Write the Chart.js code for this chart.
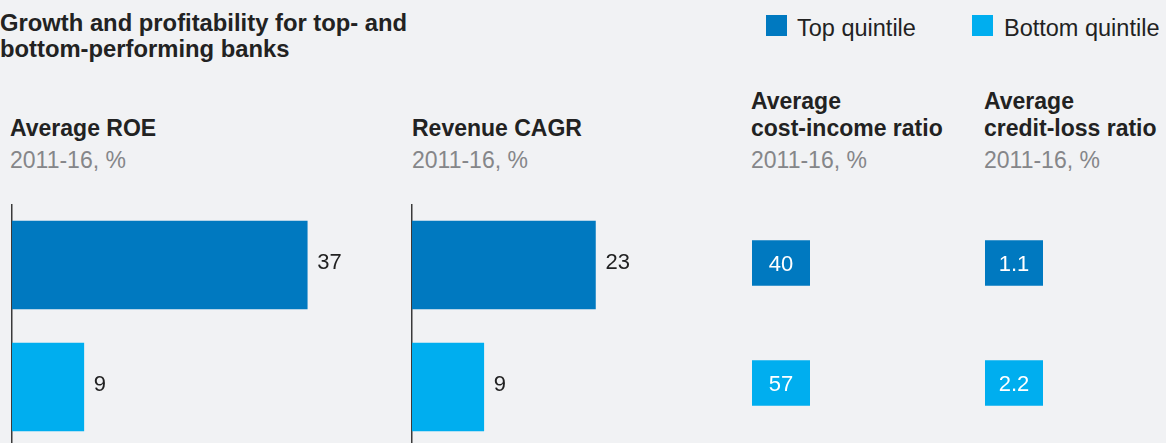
<!DOCTYPE html>
<html lang="en">

<head>
    <meta charset="UTF-8">
    <title>Growth and profitability for top- and bottom-performing banks</title>
    <script src="https://cdn.jsdelivr.net/npm/chart.js"></script>
    <style>
        body { margin: 0; background: #f1f2f4; font-family: "Liberation Sans", Arial, sans-serif; }
        #wrap { position: relative; width: 1166px; height: 443px; overflow: hidden; }
        .txt { position: absolute; white-space: nowrap; color: #222; }
        .title { font-size: 23.8px; font-weight: bold; line-height: 26px; }
        .head { font-size: 23px; font-weight: bold; line-height: 27px; }
        .sub { font-size: 23px; line-height: 27px; color: #858689; }
        .legend { font-size: 23.5px; line-height: 27px; }
        .swatch { position: absolute; width: 21px; height: 21px; }
        canvas { position: absolute; }
    </style>
</head>

<body>
    <div id="wrap">
        <div class="txt title" style="left:0; top:10px">Growth and profitability for top- and<br>bottom-performing banks</div>

        <div class="swatch" style="left:766px; top:15px; background:#0079c0"></div>
        <div class="txt legend" style="left:797px; top:14.5px">Top quintile</div>
        <div class="swatch" style="left:972px; top:15px; background:#00aeef"></div>
        <div class="txt legend" style="left:1004px; top:14.5px">Bottom quintile</div>

        <div class="txt head" style="left:10px; top:114.5px">Average ROE</div>
        <div class="txt sub" style="left:10px; top:146.5px">2011-16, %</div>
        <div class="txt head" style="left:412px; top:114.5px">Revenue CAGR</div>
        <div class="txt sub" style="left:412px; top:146.5px">2011-16, %</div>
        <div class="txt head" style="left:751px; top:87.5px">Average<br>cost-income ratio</div>
        <div class="txt sub" style="left:751px; top:146.5px">2011-16, %</div>
        <div class="txt head" style="left:984px; top:87.5px">Average<br>credit-loss ratio</div>
        <div class="txt sub" style="left:984px; top:146.5px">2011-16, %</div>

        <canvas id="roeChart" width="395" height="244" style="left:0; top:204px"></canvas>
        <canvas id="cagrChart" width="331" height="244" style="left:400px; top:204px"></canvas>
        <canvas id="costChart" width="58" height="240" style="left:752px; top:203px"></canvas>
        <canvas id="lossChart" width="58" height="240" style="left:985px; top:203px"></canvas>
    </div>

    <script>
        const groups = ["Top quintile", "Bottom quintile"];
        const colors = ["#0079c0", "#00aeef"];
        const roe = [37, 9];
        const revenueCagr = [23, 9];
        const costIncome = [40, 57];
        const creditLoss = [1.1, 2.2];

        Chart.defaults.font.family = "'Liberation Sans', Arial, sans-serif";

        // value text just past the end of each bar
        const endLabels = {
            id: "endLabels",
            afterDatasetsDraw(chart) {
                const ctx = chart.ctx;
                const ds = chart.data.datasets[0];
                ctx.save();
                ctx.font = "22px 'Liberation Sans', Arial, sans-serif";
                ctx.fillStyle = "#222";
                ctx.textBaseline = "alphabetic";
                chart.getDatasetMeta(0).data.forEach((bar, i) => {
                    ctx.fillText(String(ds.data[i]), bar.x + 10, bar.y + 4);
                });
                ctx.restore();
            }
        };

        // white value text centred in each box
        const boxLabels = {
            id: "boxLabels",
            afterDatasetsDraw(chart) {
                const ctx = chart.ctx;
                const vals = chart.options.plugins.boxLabels.values;
                ctx.save();
                ctx.font = "22px 'Liberation Sans', Arial, sans-serif";
                ctx.fillStyle = "#fff";
                ctx.textAlign = "center";
                ctx.textBaseline = "alphabetic";
                chart.getDatasetMeta(0).data.forEach((bar, i) => {
                    const cx = (bar.x + bar.base) / 2;
                    ctx.fillText(vals[i].toFixed(String(vals[i]).includes(".") ? 1 : 0), cx, bar.y + 8);
                });
                ctx.restore();
            }
        };

        function barChart(canvasId, values, max) {
            return new Chart(document.getElementById(canvasId), {
                type: "bar",
                data: {
                    labels: groups,
                    datasets: [{
                        data: values,
                        backgroundColor: colors,
                        borderWidth: 0,
                        barThickness: 88
                    }]
                },
                options: {
                    indexAxis: "y",
                    responsive: false,
                    animation: false,
                    devicePixelRatio: 1,
                    layout: { padding: { left: 4, right: 0, top: 0, bottom: 0 } },
                    plugins: { legend: { display: false }, tooltip: { enabled: false } },
                    scales: {
                        x: { display: false, min: 0, max: max },
                        y: {
                            display: true,
                            grid: { display: false },
                            ticks: { display: false },
                            border: { display: true, color: "#3a3a3a", width: 1.5 }
                        }
                    }
                },
                plugins: [endLabels]
            });
        }

        function boxChart(canvasId, values) {
            return new Chart(document.getElementById(canvasId), {
                type: "bar",
                data: {
                    labels: groups,
                    datasets: [{
                        // each value gets one full-width cell
                        data: values.map(() => [0, 1]),
                        backgroundColor: colors,
                        borderWidth: 0,
                        barThickness: 45
                    }]
                },
                options: {
                    indexAxis: "y",
                    responsive: false,
                    animation: false,
                    devicePixelRatio: 1,
                    layout: { padding: 0 },
                    plugins: {
                        legend: { display: false },
                        tooltip: { enabled: false },
                        boxLabels: { values: values }
                    },
                    scales: {
                        x: { display: false, min: 0, max: 1 },
                        y: { display: false }
                    }
                },
                plugins: [boxLabels]
            });
        }

        barChart("roeChart", roe, 48);
        barChart("cagrChart", revenueCagr, 40);
        boxChart("costChart", costIncome);
        boxChart("lossChart", creditLoss);
    </script>
</body>

</html>
